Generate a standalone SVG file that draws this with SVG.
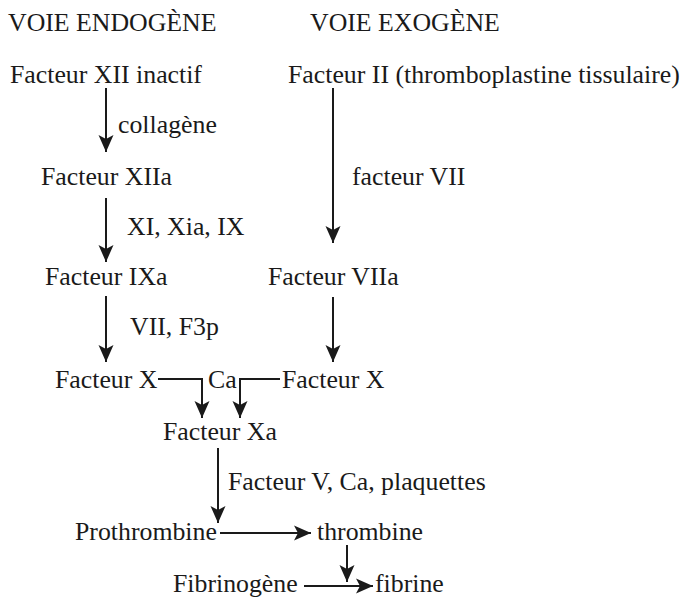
<svg xmlns="http://www.w3.org/2000/svg" width="687" height="602" viewBox="0 0 687 602">
<style>
text{font-family:"Liberation Serif","Times New Roman",serif;font-size:25.8px;fill:#1a1a1a}
.c{stroke:#1a1a1a;stroke-width:2;fill:none}
</style>
<defs>
<marker id="ah" markerUnits="userSpaceOnUse" markerWidth="18" markerHeight="16" viewBox="-17 -8 18 16" refX="0" refY="0" orient="auto">
<path d="M0,0 L-17,-7.5 L-13,0 L-17,7.5 Z" fill="#1a1a1a"/>
</marker>
</defs>
<rect width="687" height="602" fill="#fff"/>
<g id="titles">
<text x="8" y="31">VOIE ENDOGÈNE</text>
<text x="310" y="31">VOIE EXOGÈNE</text>
</g>
<g id="n-xii"><text x="10" y="83">Facteur XII inactif</text></g>
<g id="n-ii"><text x="288" y="83">Facteur II (thromboplastine tissulaire)</text></g>
<g id="n-xiia"><text x="41" y="185">Facteur XIIa</text></g>
<g id="n-ixa"><text x="45" y="285">Facteur IXa</text></g>
<g id="n-viia"><text x="268" y="285">Facteur VIIa</text></g>
<g id="n-x-left"><text x="55" y="388">Facteur X</text></g>
<g id="n-ca"><text x="208" y="388">Ca</text></g>
<g id="n-x-right"><text x="282" y="388">Facteur X</text></g>
<g id="n-xa"><text x="163" y="440">Facteur Xa</text></g>
<g id="n-prothrombine"><text x="75" y="540">Prothrombine</text></g>
<g id="n-thrombine"><text x="317" y="540">thrombine</text></g>
<g id="n-fibrinogene"><text x="173" y="592">Fibrinogène</text></g>
<g id="n-fibrine"><text x="375" y="592">fibrine</text></g>
<g id="connectors">
<line class="c" x1="106" y1="88" x2="106" y2="152" marker-end="url(#ah)"/>
<line class="c" x1="106" y1="198" x2="106" y2="262" marker-end="url(#ah)"/>
<line class="c" x1="106" y1="296" x2="106" y2="362" marker-end="url(#ah)"/>
<line class="c" x1="333" y1="88" x2="333" y2="243" marker-end="url(#ah)"/>
<line class="c" x1="333" y1="297" x2="333" y2="362" marker-end="url(#ah)"/>
<polyline class="c" points="158,379 202,379 202,418" marker-end="url(#ah)"/>
<polyline class="c" points="280,379 240,379 240,418" marker-end="url(#ah)"/>
<line class="c" x1="218" y1="448" x2="218" y2="523" marker-end="url(#ah)"/>
<line class="c" x1="220" y1="533" x2="311" y2="533" marker-end="url(#ah)"/>
<line class="c" x1="347" y1="545" x2="347" y2="582" marker-end="url(#ah)"/>
<line class="c" x1="304" y1="586" x2="373" y2="586" marker-end="url(#ah)"/>
</g>
<g id="labels">
<text x="118" y="133">collagène</text>
<text x="127" y="235">XI, Xia, IX</text>
<text x="130" y="335">VII, F3p</text>
<text x="352" y="185">facteur VII</text>
<text x="228" y="490">Facteur V, Ca, plaquettes</text>
</g>
</svg>
